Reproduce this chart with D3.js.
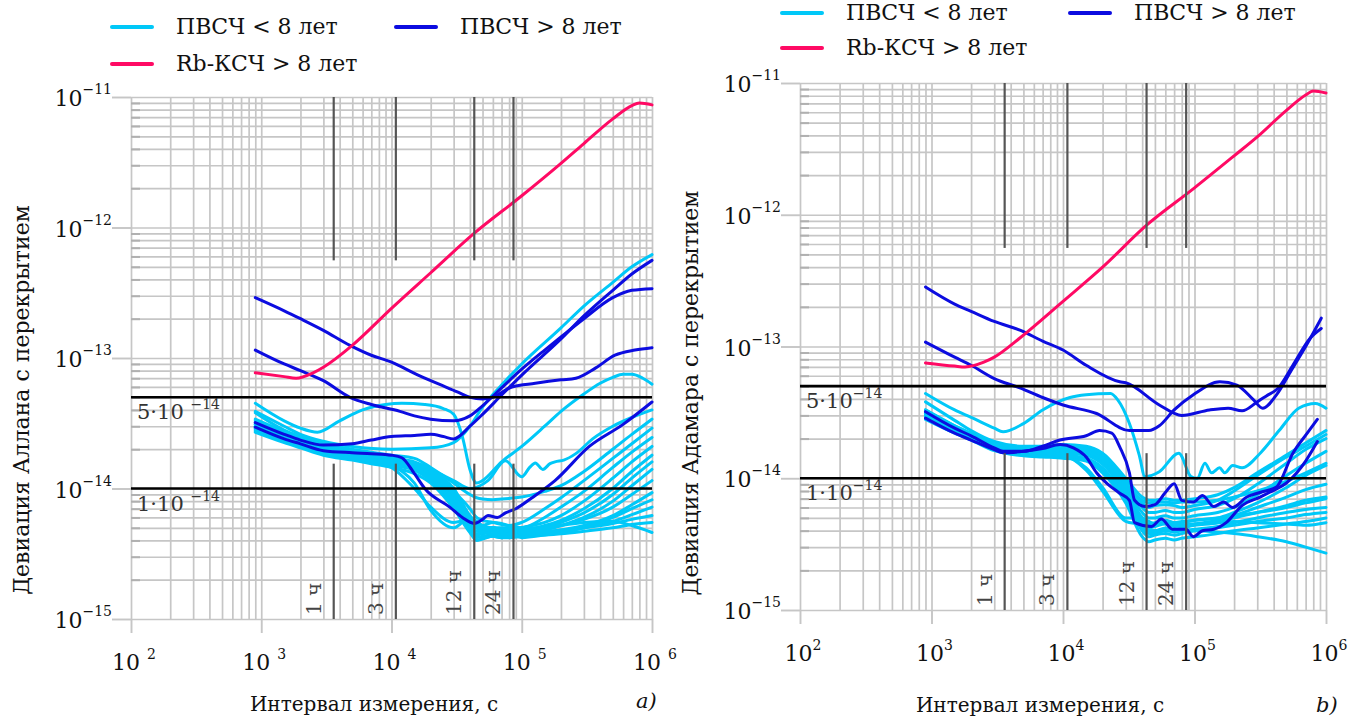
<!DOCTYPE html>
<html><head><meta charset="utf-8">
<script src="https://cdn.jsdelivr.net/npm/d3@7"></script>
<style>
body{margin:0;background:#fff}
svg{display:block}
text{font-family:"DejaVu Serif","Liberation Serif",serif;fill:#111}
</style>
</head><body>
<svg id="c" width="1349" height="718"></svg>
<script>
// ---------------- DATA (values in units of 1e-14) ----------------
const UNIT = 1e-14;
const xTickExps = [2, 3, 4, 5, 6];
const yTickExps = [-11, -12, -13, -14, -15];
const hourSeconds = [3600, 10800, 43200, 86400];
const hourLabels = ["1 ч", "3 ч", "12 ч", "24 ч"];
const refValues = [5e-14, 1e-14];
const refMantissa = ["5", "1"];
const legendLabels = ["ПВСЧ < 8 лет", "ПВСЧ > 8 лет", "Rb-КСЧ > 8 лет"];
const panelLetters = ["a)", "b)"];
const yTitles = ["Девиация Аллана с перекрытием", "Девиация Адамара с перекрытием"];
const xTitle = "Интервал измерения, с";

// shared tau grid for the dense bundle of young H-masers
const TAU = [900,1500,2000,3000,5000,7000,1e4,1.5e4,2e4,3e4,4e4,4.5e4,5e4,6e4,7e4,8e4,1e5,1.5e5,2e5,3e5,5e5,7e5,1e6];

// ---- panel a) Allan deviation ----
const allanBundle = [
 [3.8,2.8,2.5,2.2,2.0,1.9,1.8,1.7,1.45, 1.1,0.9,0.85,0.83,0.82,0.83,0.84,0.86,0.95,1.05,1.35,2.0,2.6,3.4],
 [3.3,2.7,2.4,2.1,1.9,1.8,1.7,1.6,1.4, 1.0,0.62,0.55,0.52,0.55,0.54,0.52,0.55,0.7,0.85,1.15,1.7,2.2,2.9],
 [3.1,2.6,2.35,2.05,1.85,1.75,1.65,1.55,1.35, 0.95,0.58,0.5,0.48,0.5,0.49,0.5,0.5,0.6,0.72,0.95,1.45,1.9,2.46],
 [3.0,2.5,2.3,2.0,1.8,1.7,1.6,1.5,1.3, 0.9,0.55,0.47,0.47,0.5,0.48,0.47,0.5,0.55,0.62,0.8,1.2,1.6,2.1],
 [2.9,2.45,2.25,1.95,1.78,1.68,1.58,1.45,1.25, 0.85,0.52,0.45,0.46,0.48,0.46,0.48,0.48,0.52,0.57,0.7,1.0,1.35,1.8],
 [3.2,2.6,2.3,2.0,1.82,1.72,1.62,1.48,1.28, 0.8,0.5,0.44,0.45,0.47,0.45,0.46,0.47,0.5,0.55,0.65,0.9,1.2,1.6],
 [2.8,2.35,2.15,1.9,1.72,1.62,1.52,1.4,1.2, 0.78,0.5,0.43,0.42,0.45,0.44,0.45,0.46,0.48,0.52,0.6,0.8,1.05,1.4],
 [3.0,2.5,2.25,1.98,1.8,1.7,1.6,1.52,1.35, 0.95,0.7,0.6,0.57,0.55,0.53,0.52,0.5,0.5,0.52,0.58,0.72,0.9,1.15],
 [2.75,2.3,2.1,1.85,1.7,1.6,1.5,1.38,1.15, 0.72,0.48,0.42,0.43,0.44,0.43,0.44,0.45,0.46,0.48,0.52,0.62,0.75,0.93],
 [2.7,2.25,2.05,1.8,1.65,1.55,1.45,1.3,1.1, 0.7,0.46,0.4,0.41,0.43,0.42,0.43,0.44,0.45,0.46,0.5,0.56,0.63,0.72],
 [3.1,2.55,2.3,2.02,1.83,1.73,1.63,1.5,1.3, 0.9,0.6,0.52,0.5,0.5,0.48,0.48,0.47,0.47,0.48,0.5,0.54,0.58,0.62],
 [2.9,2.4,2.2,1.93,1.75,1.65,1.55,1.42,1.22, 0.75,0.48,0.43,0.42,0.43,0.42,0.42,0.43,0.44,0.45,0.47,0.5,0.53,0.55],
 [2.95,2.45,2.2,1.95,1.77,1.67,1.5,1.1,0.68, 0.5,0.6,0.56,0.52,0.5,0.5,0.5,0.48,0.5,0.52,0.55,0.56,0.52,0.46],
 [2.85,2.4,2.15,1.9,1.72,1.62,1.45,1.0,0.72, 0.55,0.58,0.5,0.46,0.45,0.44,0.45,0.42,0.44,0.46,0.5,0.6,0.7,0.82]
];
const allanCyanExtra = [
 [[900,4.5],[1500,3.3],[2000,2.9],[2700,2.7],[4000,3.3],[6000,4.0],[9000,4.4],[1.2e4,4.5],[1.8e4,4.4],[2.5e4,4.1],[3e4,3.7],[3.5e4,2.5],[4e4,1.4],[4.5e4,1.1],[5e4,1.15],[7e4,1.6],[1e5,2.1],[1.5e5,3.0],[2e5,3.9],[3e5,5.3],[4e5,6.4],[5e5,7.1],[6e5,7.5],[7e5,7.5],[8.5e5,7.0],[1e6,6.3]],
 [[900,3.4],[2000,2.45],[3000,2.15],[5000,1.95],[1e4,1.75],[2e4,1.4],[3e4,1.15],[4e4,1.0],[5.5e4,1.15],[7.5e4,1.63],[1e5,1.23],[1.15e5,1.45],[1.27e5,1.57],[1.45e5,1.4],[1.65e5,1.55],[1.8e5,1.6],[2.1e5,1.65],[2.6e5,1.85],[3.5e5,2.4],[5e5,3.0],[7e5,3.5],[1e6,4.0]],
 [[900,3.9],[1500,3.0],[2000,2.6],[3000,2.3],[5000,2.1],[1e4,2.0],[2e4,2.05],[3e4,2.25],[4e4,3.0],[5e4,4.2],[7e4,6.2],[1e5,9.0],[2e5,17],[3e5,25],[5e5,38],[7e5,50],[1e6,62]]
];
const allanBlue = [
 [[900,29],[1500,23],[2000,20],[3000,16.3],[4800,12.5],[7000,10.5],[1e4,9.3],[1.6e4,7.4],[2e4,6.7],[3.2e4,5.5],[4e4,5.0],[5e4,4.85],[6e4,5.0],[8.4e4,6.0],[1.27e5,6.4],[2e5,6.8],[2.6e5,7.0],[3.7e5,8.4],[5.2e5,10.5],[7.4e5,11.5],[1e6,12]],
 [[900,11.5],[1500,9.0],[2000,8.0],[3000,6.7],[4800,5.0],[7000,4.4],[1.16e4,3.9],[1.5e4,3.6],[2e4,3.4],[3e4,3.3],[4e4,3.6],[5e4,4.3],[7e4,5.9],[1e5,8.2],[1.5e5,11.5],[2e5,14.5],[3e5,20],[5e5,29],[7e5,33],[1e6,34]],
 [[900,3.2],[1500,2.6],[2000,2.35],[3000,2.15],[5000,2.2],[7000,2.35],[1e4,2.5],[1.5e4,2.55],[2e4,2.6],[2.5e4,2.5],[3e4,2.4],[4e4,3.0],[5e4,3.7],[7e4,5.2],[1e5,7.4],[2e5,14],[3e5,21],[5e5,33],[7e5,44],[1e6,56]],
 [[900,2.95],[1500,2.4],[2000,2.2],[3000,1.95],[5000,1.88],[7000,1.85],[1e4,1.8],[1.2e4,1.72],[1.5e4,1.3],[1.8e4,1.0],[2.8e4,0.72],[3.5e4,0.6],[4.3e4,0.54],[5e4,0.58],[5.5e4,0.62],[6.5e4,0.6],[7.5e4,0.65],[9e4,0.7],[1.2e5,0.85],[1.8e5,1.15],[3.3e5,2.1],[6e5,3.1],[1e6,4.6]]
];
const allanRb = [[900,7.7],[1500,7.2],[1850,7.0],[2500,7.7],[3000,8.5],[5000,12.5],[1e4,24],[2e4,45],[4.3e4,90],[1e5,175],[2e5,310],[3e5,440],[5e5,680],[7e5,860],[8e5,900],[1e6,870]];

// ---- panel b) Hadamard deviation ----
const hadamardBundle = [
 [3.8,2.75,2.3,1.9,1.75,1.75,1.8,1.75,1.55, 1.0,0.72,0.68,0.68,0.7,0.68,0.68,0.7,0.75,0.85,1.1,1.5,1.85,2.3],
 [3.3,2.5,2.2,1.85,1.7,1.7,1.75,1.7,1.5, 0.95,0.65,0.6,0.62,0.63,0.62,0.6,0.62,0.68,0.8,1.05,1.45,1.75,2.15],
 [3.2,2.45,2.15,1.8,1.65,1.65,1.7,1.65,1.45, 0.9,0.6,0.55,0.55,0.57,0.55,0.55,0.58,0.62,0.7,0.9,1.3,1.65,2.0],
 [3.1,2.4,2.1,1.75,1.62,1.62,1.65,1.6,1.4, 0.85,0.55,0.5,0.5,0.52,0.5,0.5,0.52,0.55,0.6,0.75,1.05,1.3,1.6],
 [3.0,2.35,2.05,1.72,1.58,1.58,1.6,1.55,1.35, 0.8,0.5,0.45,0.46,0.48,0.46,0.46,0.48,0.5,0.55,0.65,0.85,1.05,1.25],
 [3.3,2.5,2.15,1.78,1.6,1.6,1.62,1.55,1.3, 0.75,0.48,0.42,0.43,0.45,0.43,0.44,0.45,0.48,0.52,0.6,0.72,0.82,0.9],
 [2.9,2.3,2.0,1.68,1.55,1.55,1.58,1.5,1.3, 0.78,0.45,0.4,0.4,0.42,0.41,0.42,0.44,0.46,0.5,0.55,0.62,0.68,0.72],
 [3.0,2.35,2.05,1.7,1.55,1.52,1.5,1.42,1.2, 0.7,0.42,0.38,0.38,0.4,0.39,0.4,0.41,0.43,0.46,0.5,0.55,0.58,0.6],
 [2.85,2.25,1.98,1.65,1.5,1.48,1.45,1.38,1.15, 0.68,0.4,0.36,0.37,0.38,0.37,0.38,0.4,0.42,0.44,0.47,0.5,0.53,0.55],
 [2.8,2.2,1.95,1.62,1.48,1.45,1.42,1.35,1.1, 0.65,0.36,0.33,0.34,0.35,0.34,0.35,0.36,0.38,0.4,0.42,0.45,0.47,0.5],
 [3.1,2.4,2.1,1.75,1.6,1.6,1.5,1.2,0.85, 0.5,0.5,0.47,0.45,0.46,0.45,0.44,0.45,0.46,0.47,0.46,0.45,0.44,0.46],
 [2.95,2.3,2.05,1.7,1.55,1.55,1.5,1.15,0.8, 0.47,0.44,0.4,0.4,0.41,0.4,0.4,0.4,0.39,0.38,0.36,0.33,0.3,0.27],
 [3.05,2.4,2.1,1.76,1.6,1.6,1.65,1.6,1.4, 0.92,0.68,0.65,0.66,0.66,0.65,0.66,0.66,0.68,0.72,0.8,0.95,1.1,1.3],
 [2.9,2.3,2.0,1.68,1.55,1.55,1.55,1.5,1.28, 0.8,0.5,0.45,0.45,0.47,0.46,0.47,0.48,0.5,0.52,0.55,0.6,0.65,0.7]
];
const hadamardCyanExtra = [
 [[900,4.4],[1500,3.3],[2000,2.9],[3000,2.4],[3500,2.25],[5000,2.6],[7000,3.3],[1.13e4,4.1],[1.5e4,4.3],[2.3e4,4.4],[2.6e4,3.95],[3.2e4,2.6],[3.8e4,1.5],[4.2e4,1.03],[5.4e4,1.12],[7.6e4,1.55],[9.4e4,1.03],[1.05e5,1.0],[1.2e5,1.3],[1.35e5,1.1],[1.55e5,1.2],[1.7e5,1.1],[1.95e5,1.25],[2.3e5,1.2],[3.2e5,1.57],[4.4e5,2.3],[6.2e5,3.4],[8.3e5,3.7],[1e6,3.4]]
];
const hadamardBlue = [
 [[900,28.3],[1500,21],[2000,18.5],[3000,15.5],[4700,13.3],[7000,11],[1e4,9.4],[1.5e4,7.2],[2.7e4,5.4],[3e4,5.3],[5.4e4,3.6],[8e4,3.0],[1.3e5,3.3],[1.8e5,3.4],[2.3e5,3.25],[3e5,3.8],[3.5e5,4.2],[4.3e5,4.8],[5.6e5,7.2],[7.6e5,11.6],[9.2e5,13.7]],
 [[900,10.8],[1500,8.3],[2000,7.2],[3000,5.7],[4700,4.85],[7000,4.1],[1e4,3.6],[1.8e4,3.1],[3.2e4,2.3],[4.5e4,2.3],[5.4e4,2.5],[7e4,3.3],[9.8e4,4.3],[1.56e5,5.4],[2.1e5,5.1],[2.8e5,3.95],[3.3e5,3.4],[4.2e5,4.3],[5.4e5,6.5],[7.2e5,10.5],[9.2e5,16.4]],
 [[900,3.2],[1500,2.4],[2000,2.1],[3000,1.7],[3500,1.6],[5000,1.6],[7000,1.75],[9500,1.95],[1.5e4,2.1],[1.9e4,2.3],[2.35e4,2.2],[2.7e4,1.73],[3.2e4,1.1],[3.5e4,0.68],[4.2e4,0.61],[5e4,0.63],[6e4,0.78],[7e4,0.91],[8e4,0.68],[9.8e4,0.66],[1.15e5,0.74],[1.4e5,0.61],[1.66e5,0.66],[1.95e5,0.6],[2.5e5,0.72],[3.15e5,0.78],[4.2e5,0.86],[5.6e5,1.55],[7.2e5,2.2],[8.6e5,2.8]],
 [[900,2.86],[1500,2.2],[2000,1.95],[3000,1.65],[3500,1.56],[5000,1.6],[7000,1.68],[9500,1.8],[1.2e4,1.7],[1.5e4,1.45],[1.8e4,1.1],[2.2e4,0.9],[2.7e4,0.77],[3.2e4,0.68],[3.5e4,0.46],[4.7e4,0.43],[5.6e4,0.49],[6.8e4,0.41],[8.6e4,0.41],[9.8e4,0.36],[1.15e5,0.4],[1.4e5,0.41],[1.74e5,0.46],[2.3e5,0.62],[3.15e5,0.72],[4e5,0.81],[5e5,0.92],[6e5,1.1],[7e5,1.35],[8.6e5,1.9]]
];
const hadamardRb = [[900,7.5],[1500,7.1],[1800,7.0],[2500,7.6],[3000,8.3],[4700,11.6],[1e4,22],[2e4,40],[4.3e4,83],[1e5,160],[2e5,280],[3e5,390],[5e5,620],[7e5,810],[8e5,870],[1e6,840]];

// ---------------- STYLE / LAYOUT ----------------
const COL_CYAN = "#00c8f8", COL_BLUE = "#0c0ce0", COL_PINK = "#ff0a64";
const GRID = "#c6c6c6";
const LW = 3;

const panels = [
 {x0:131, x1:652, y0:97, y1:619, supGap:" ",
  legend:{x1:112, x2:396, y1:27, y2:64},
  yTitleX:29, yTitleY:400, xTitleX:374, xTitleY:711, letterX:636, letterY:708,
  bundle:allanBundle, cyan:allanCyanExtra, blue:allanBlue, rb:allanRb},
 {x0:800, x1:1326, y0:83, y1:610, supGap:"",
  legend:{x1:782, x2:1070, y1:13, y2:48},
  yTitleX:698, yTitleY:393, xTitleX:1040, xTitleY:712, letterX:1316, letterY:712,
  bundle:hadamardBundle, cyan:hadamardCyanExtra, blue:hadamardBlue, rb:hadamardRb}
];

const svg = d3.select("#c");

panels.forEach((p, pi) => {
  const g = svg.append("g");
  const x = d3.scaleLog().domain([1e2, 1e6]).range([p.x0, p.x1]);
  const y = d3.scaleLog().domain([1e-15, 1e-11]).range([p.y1, p.y0]);

  const xGrid = [], yGrid = [];
  for (let k = 2; k <= 5; k++) for (let m = 1; m <= 9; m++) xGrid.push(m * Math.pow(10, k));
  xGrid.push(1e6);
  for (let k = -15; k <= -12; k++) for (let m = 1; m <= 9; m++) yGrid.push(m * Math.pow(10, k));
  yGrid.push(1e-11);

  const gx = g.append("g").attr("transform", `translate(0,${p.y1})`)
    .call(d3.axisBottom(x).tickValues(xGrid).tickSize(-(p.y1 - p.y0)).tickFormat(""));
  gx.select(".domain").remove();
  gx.selectAll("line").attr("stroke", GRID).attr("stroke-width", 1.7);
  const gy = g.append("g").attr("transform", `translate(${p.x0},0)`)
    .call(d3.axisLeft(y).tickValues(yGrid).tickSize(-(p.x1 - p.x0)).tickFormat(""));
  gy.select(".domain").remove();
  gy.selectAll("line").attr("stroke", GRID).attr("stroke-width", 1.7);

  const gs = g.append("g").attr("transform", `translate(${p.x0},0)`)
    .call(d3.axisRight(y).tickValues(yGrid.filter(v => !yTickExps.some(e => Math.abs(v / Math.pow(10, e) - 1) < 1e-6))).tickSize(9).tickFormat(""));
  gs.select(".domain").remove();
  gs.selectAll("line").attr("stroke", "#b0b0b0").attr("stroke-width", 2);

  const majX = xTickExps.map(e => Math.pow(10, e));
  const majY = yTickExps.map(e => Math.pow(10, e));
  const ax = g.append("g").attr("transform", `translate(0,${p.y1})`)
    .call(d3.axisBottom(x).tickValues(majX).tickSize(14).tickFormat(""));
  ax.select(".domain").remove();
  ax.selectAll("line").attr("stroke", GRID).attr("stroke-width", 1.9);
  const ay = g.append("g").attr("transform", `translate(${p.x0},0)`)
    .call(d3.axisLeft(y).tickValues(majY).tickSize(19).tickFormat(""));
  ay.select(".domain").remove();
  ay.selectAll("line").attr("stroke", GRID).attr("stroke-width", 1.9);

  xTickExps.forEach(e => {
    const t = g.append("text").attr("x", x(Math.pow(10, e)) + 3).attr("y", p.y1 + 51)
      .attr("text-anchor", "middle").style("font-size", "22px").text("10" + p.supGap);
    t.append("tspan").attr("dy", -11).style("font-size", "14px").text(String(e));
  });
  yTickExps.forEach(e => {
    const t = g.append("text").attr("x", p.x0 - 19).attr("y", y(Math.pow(10, e)) + 9)
      .attr("text-anchor", "end").style("font-size", "22px").text("10");
    t.append("tspan").attr("dy", -12).style("font-size", "14px").text("\u2212" + (-e));
  });

  const line = d3.line().x(d => x(d[0])).y(d => y(d[1])).curve(d3.curveMonotoneX);
  const gc = g.append("g").attr("fill", "none").attr("stroke-linejoin", "round").attr("stroke-linecap", "round");
  p.bundle.forEach(vals => {
    gc.append("path").attr("d", line(TAU.map((t, i) => [t, vals[i] * UNIT])))
      .attr("stroke", COL_CYAN).attr("stroke-width", LW);
  });
  p.cyan.forEach(s => {
    gc.append("path").attr("d", line(s.map(d => [d[0], d[1] * UNIT])))
      .attr("stroke", COL_CYAN).attr("stroke-width", LW);
  });
  p.blue.forEach(s => {
    gc.append("path").attr("d", line(s.map(d => [d[0], d[1] * UNIT])))
      .attr("stroke", COL_BLUE).attr("stroke-width", LW);
  });
  gc.append("path").attr("d", line(p.rb.map(d => [d[0], d[1] * UNIT])))
    .attr("stroke", COL_PINK).attr("stroke-width", LW);

  hourSeconds.forEach((s, i) => {
    const xx = x(s);
    g.append("line").attr("x1", xx).attr("x2", xx).attr("y1", p.y0).attr("y2", y(5.6e-13))
      .attr("stroke", "#555").attr("stroke-width", 2.2);
    g.append("line").attr("x1", xx).attr("x2", xx).attr("y1", y(1.55e-14)).attr("y2", p.y1)
      .attr("stroke", "#555").attr("stroke-width", 2.2);
    g.append("text").attr("transform", `translate(${xx - 13},${p.y1 - 4}) rotate(-90)`)
      .style("font-size", "20px").style("fill", "#444").text(hourLabels[i]);
  });

  refValues.forEach((v, i) => {
    g.append("line").attr("x1", p.x0).attr("x2", p.x1).attr("y1", y(v)).attr("y2", y(v))
      .attr("stroke", "#000").attr("stroke-width", 2.6);
    const t = g.append("text").attr("x", p.x0 + 6).attr("y", y(v) + 22)
      .style("font-size", "21px").style("fill", "#333").text(refMantissa[i] + "\u00b710" + p.supGap);
    t.append("tspan").attr("dy", -10).style("font-size", "14px").text("\u221214");
  });

  g.append("text").attr("x", p.xTitleX).attr("y", p.xTitleY).attr("text-anchor", "middle")
    .style("font-size", "20px").text(xTitle);
  g.append("text").attr("transform", `translate(${p.yTitleX},${p.yTitleY}) rotate(-90)`)
    .attr("text-anchor", "middle").style("font-size", "22px").text(yTitles[pi]);
  g.append("text").attr("x", p.letterX).attr("y", p.letterY).style("font-size", "21px")
    .style("font-style", "italic").text(panelLetters[pi]);

  const L = p.legend;
  const items = [[L.x1, L.y1, COL_CYAN], [L.x2, L.y1, COL_BLUE], [L.x1, L.y2, COL_PINK]];
  items.forEach((it, i) => {
    g.append("line").attr("x1", it[0]).attr("x2", it[0] + 40).attr("y1", it[1]).attr("y2", it[1])
      .attr("stroke", it[2]).attr("stroke-width", 4).attr("stroke-linecap", "round");
    g.append("text").attr("x", it[0] + 64).attr("y", it[1] + 7).style("font-size", "22px").text(legendLabels[i]);
  });
});
</script>
</body></html>
